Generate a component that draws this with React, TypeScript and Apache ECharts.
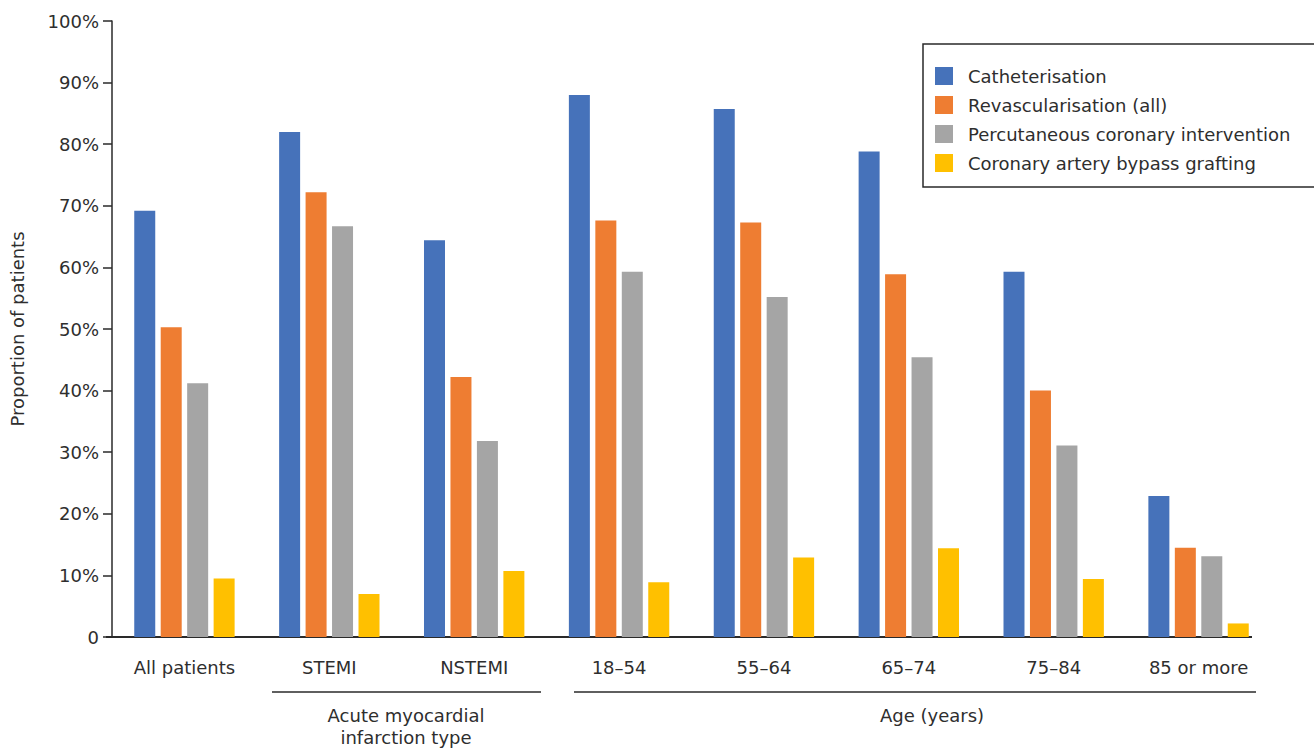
import React, { useEffect, useRef } from "react";
import * as echarts from "echarts";

// Groups along the horizontal axis
const categories = [
  "All patients",
  "STEMI",
  "NSTEMI",
  "18–54",
  "55–64",
  "65–74",
  "75–84",
  "85 or more",
];

// Proportion of patients (%) receiving each procedure
const catheterisation = [69.2, 82.0, 64.4, 88.0, 85.7, 78.8, 59.3, 22.9];
const revascularisation = [50.3, 72.2, 42.2, 67.6, 67.3, 58.9, 40.0, 14.5];
const pci = [41.2, 66.7, 31.8, 59.3, 55.2, 45.4, 31.1, 13.1];
const cabg = [9.5, 7.0, 10.7, 8.9, 12.9, 14.4, 9.4, 2.2];

const seriesNames = [
  "Catheterisation",
  "Revascularisation (all)",
  "Percutaneous coronary intervention",
  "Coronary artery bypass grafting",
];
const seriesColors = ["#4672BA", "#EE7D32", "#A5A5A5", "#FFC000"];

const yMin = 0;
const yMax = 100;
const yStep = 10;

const FONT = "DejaVu Sans";
const TEXT = "#2e2e2e";
const LINE = "#2a2a2a";

export default function App() {
  const ref = useRef<HTMLDivElement>(null);

  useEffect(() => {
    document.body.style.margin = "0";
    if (!ref.current) return;
    const chart = echarts.init(ref.current, null, { renderer: "svg" });
    const values = [catheterisation, revascularisation, pci, cabg];

    chart.setOption({
      animation: false,
      backgroundColor: "#ffffff",
      grid: { left: 107, top: 21, width: 1164, height: 616, containLabel: false },
      legend: {
        orient: "vertical",
        left: 935,
        top: 67,
        padding: 0,
        itemWidth: 18,
        itemHeight: 18,
        itemGap: 11,
        icon: "rect",
        selectedMode: false,
        data: seriesNames,
        textStyle: {
          fontFamily: FONT,
          fontSize: 18,
          color: TEXT,
          lineHeight: 18,
          padding: [0, 0, 0, 10],
        },
      },
      xAxis: {
        type: "category",
        data: categories,
        boundaryGap: true,
        axisLine: { show: false },
        axisTick: { show: false },
        axisLabel: {
          interval: 0,
          margin: 21,
          fontFamily: FONT,
          fontSize: 18,
          color: TEXT,
        },
      },
      yAxis: {
        type: "value",
        min: yMin,
        max: yMax,
        interval: yStep,
        name: "Proportion of patients",
        nameLocation: "middle",
        nameRotate: 90,
        nameGap: 86,
        nameTextStyle: { fontFamily: FONT, fontSize: 18, color: TEXT },
        splitLine: { show: false },
        axisLine: { show: true, lineStyle: { color: LINE, width: 1.5 } },
        axisTick: { show: true, inside: false, length: 9, lineStyle: { color: LINE, width: 1.5 } },
        axisLabel: {
          margin: 13,
          fontFamily: FONT,
          fontSize: 18,
          color: TEXT,
          formatter: (v: number) => (v === 0 ? "0" : `${v}%`),
        },
      },
      series: seriesNames.map((name, i) => ({
        name,
        type: "bar",
        data: values[i],
        barWidth: 21,
        barGap: "26%",
        itemStyle: { color: seriesColors[i] },
      })),
      graphic: [
        // horizontal baseline
        {
          type: "line",
          shape: { x1: 106, y1: 637, x2: 1252, y2: 637 },
          style: { stroke: LINE, lineWidth: 2 },
        },
        // group brackets
        {
          type: "line",
          shape: { x1: 272, y1: 692, x2: 541, y2: 692 },
          style: { stroke: LINE, lineWidth: 1.5 },
        },
        {
          type: "line",
          shape: { x1: 574, y1: 692, x2: 1256, y2: 692 },
          style: { stroke: LINE, lineWidth: 1.5 },
        },
        {
          type: "text",
          x: 406,
          y: 715,
          style: {
            text: "Acute myocardial",
            fontFamily: FONT,
            fontSize: 18,
            fill: TEXT,
            align: "center",
            verticalAlign: "middle",
          },
        },
        {
          type: "text",
          x: 406,
          y: 737,
          style: {
            text: "infarction type",
            fontFamily: FONT,
            fontSize: 18,
            fill: TEXT,
            align: "center",
            verticalAlign: "middle",
          },
        },
        {
          type: "text",
          x: 932,
          y: 715,
          style: {
            text: "Age (years)",
            fontFamily: FONT,
            fontSize: 18,
            fill: TEXT,
            align: "center",
            verticalAlign: "middle",
          },
        },
        // legend frame
        {
          type: "rect",
          shape: { x: 923, y: 44, width: 400, height: 143 },
          style: { fill: "none", stroke: LINE, lineWidth: 1.5 },
        },
      ],
    });

    return () => chart.dispose();
  }, []);

  return <div ref={ref} style={{ width: 1314, height: 748 }} />;
}
